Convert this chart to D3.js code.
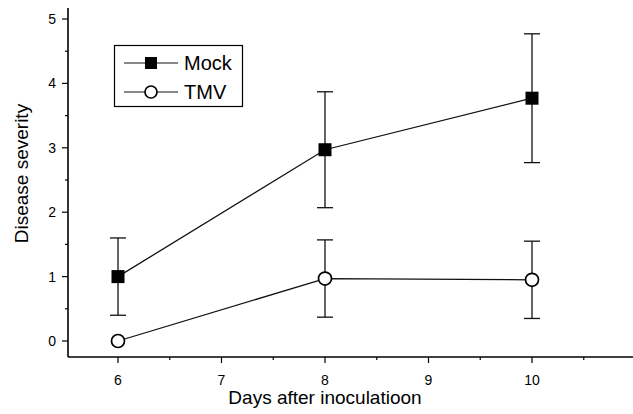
<!DOCTYPE html>
<html>
<head>
<meta charset="utf-8">
<script src="https://cdn.jsdelivr.net/npm/d3@7"></script>
<style>
  body { margin: 0; background: #fff; }
  text { font-family: "Liberation Sans", Arial, sans-serif; fill: #000; }
</style>
</head>
<body>
<div id="chart"></div>
<script>
const width = 633;
const height = 414;

const days = [6, 8, 10];
const mockMean = [1.0, 2.97, 3.77];
const mockErr = [0.6, 0.9, 1.0];
const tmvMean = [0.0, 0.97, 0.95];
const tmvErr = [0, 0.6, 0.6];
const xTicks = [6, 7, 8, 9, 10];
const yTicks = [0, 1, 2, 3, 4, 5];

const x = d3.scaleLinear().domain([6, 10]).range([118, 532]);
const y = d3.scaleLinear().domain([0, 5]).range([341, 19]);

const svg = d3.select("#chart").append("svg")
  .attr("width", width)
  .attr("height", height);

// axes
const axisY = 68, axisX = 357;

svg.append("line")
  .attr("x1", axisY).attr("x2", axisY)
  .attr("y1", 8).attr("y2", axisX)
  .attr("stroke", "#000").attr("stroke-width", 1.6);
svg.append("line")
  .attr("x1", axisY).attr("x2", width)
  .attr("y1", axisX).attr("y2", axisX)
  .attr("stroke", "#000").attr("stroke-width", 1.6);

const yMinor = d3.range(0.5, 5, 1);
svg.selectAll(".ytick").data(yTicks).join("line")
  .attr("x1", axisY - 6).attr("x2", axisY)
  .attr("y1", d => y(d)).attr("y2", d => y(d))
  .attr("stroke", "#000").attr("stroke-width", 1.2);
svg.selectAll(".yminor").data(yMinor).join("line")
  .attr("x1", axisY - 3).attr("x2", axisY)
  .attr("y1", d => y(d)).attr("y2", d => y(d))
  .attr("stroke", "#000").attr("stroke-width", 1.2);
svg.selectAll(".ylab").data(yTicks).join("text")
  .attr("x", axisY - 12).attr("y", d => y(d))
  .attr("dy", "0.35em")
  .attr("text-anchor", "end")
  .style("font-size", "14px")
  .text(d => d);

const xMinor = d3.range(5.5, 10.6, 1).filter(d => x(d) > axisY);
svg.selectAll(".xtick").data(xTicks).join("line")
  .attr("x1", d => x(d)).attr("x2", d => x(d))
  .attr("y1", axisX).attr("y2", axisX + 6)
  .attr("stroke", "#000").attr("stroke-width", 1.2);
svg.selectAll(".xminor").data(xMinor).join("line")
  .attr("x1", d => x(d)).attr("x2", d => x(d))
  .attr("y1", axisX).attr("y2", axisX + 3)
  .attr("stroke", "#000").attr("stroke-width", 1.2);
svg.selectAll(".xlab").data(xTicks).join("text")
  .attr("x", d => x(d)).attr("y", 385)
  .attr("text-anchor", "middle")
  .style("font-size", "14px")
  .text(d => d);

svg.append("text")
  .attr("x", x(8)).attr("y", 404)
  .attr("text-anchor", "middle")
  .style("font-size", "19px")
  .text("Days after inoculatioon");

svg.append("text")
  .attr("transform", `translate(28, ${y(2.6)}) rotate(-90)`)
  .attr("text-anchor", "middle")
  .style("font-size", "19px")
  .text("Disease severity");

// series
const line = d3.line().x(d => x(d[0])).y(d => y(d[1]));
const mock = days.map((d, i) => [d, mockMean[i], mockErr[i]]);
const tmv = days.map((d, i) => [d, tmvMean[i], tmvErr[i]]);

const drawErr = (data) => {
  const g = svg.append("g").attr("stroke", "#111").attr("stroke-width", 1.3);
  data.filter(d => d[2] > 0).forEach(d => {
    g.append("line")
      .attr("x1", x(d[0])).attr("x2", x(d[0]))
      .attr("y1", y(d[1] - d[2])).attr("y2", y(d[1] + d[2]));
    [d[1] - d[2], d[1] + d[2]].forEach(v => {
      g.append("line")
        .attr("x1", x(d[0]) - 8).attr("x2", x(d[0]) + 8)
        .attr("y1", y(v)).attr("y2", y(v));
    });
  });
};

drawErr(mock);
drawErr(tmv);

svg.append("path").datum(mock).attr("d", line)
  .attr("fill", "none").attr("stroke", "#111").attr("stroke-width", 1.3);
svg.append("path").datum(tmv).attr("d", line)
  .attr("fill", "none").attr("stroke", "#111").attr("stroke-width", 1.3);

svg.selectAll(".sq").data(mock).join("rect")
  .attr("x", d => x(d[0]) - 6.5).attr("y", d => y(d[1]) - 6.5)
  .attr("width", 13).attr("height", 13)
  .attr("fill", "#000");
svg.selectAll(".ci").data(tmv).join("circle")
  .attr("cx", d => x(d[0])).attr("cy", d => y(d[1]))
  .attr("r", 6.5)
  .attr("fill", "#fff").attr("stroke", "#000").attr("stroke-width", 1.7);

// legend
const leg = svg.append("g");
leg.append("rect")
  .attr("x", 114.5).attr("y", 45.5).attr("width", 128).attr("height", 61)
  .attr("fill", "#fff").attr("stroke", "#000").attr("stroke-width", 1.2);
[63, 92].forEach((ly, i) => {
  leg.append("line")
    .attr("x1", 124).attr("x2", 178).attr("y1", ly).attr("y2", ly)
    .attr("stroke", "#111").attr("stroke-width", 1.2);
  if (i === 0) {
    leg.append("rect").attr("x", 145).attr("y", ly - 6).attr("width", 12).attr("height", 12).attr("fill", "#000");
  } else {
    leg.append("circle").attr("cx", 151).attr("cy", ly).attr("r", 6)
      .attr("fill", "#fff").attr("stroke", "#000").attr("stroke-width", 1.7);
  }
  leg.append("text")
    .attr("x", 184).attr("y", ly).attr("dy", "0.35em")
    .style("font-size", "20px")
    .text(i === 0 ? "Mock" : "TMV");
});
</script>
</body>
</html>
